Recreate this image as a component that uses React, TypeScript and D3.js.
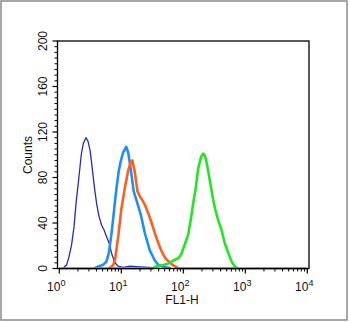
import React from "react";
import * as d3 from "d3";

const yTicks = [0, 40, 80, 120, 160, 200];
const xDecades = [0, 1, 2, 3, 4];

const navyX = [1.16, 1.23, 1.31, 1.43, 1.58, 1.73, 1.86, 2.07, 2.26, 2.44, 2.69, 2.9, 3.13, 3.37, 3.67, 4.0, 4.36, 4.82, 5.25, 5.79, 6.4, 7.08, 7.91, 8.91, 10.7, 13.8, 20, 28.8, 41.7];
const navyY = [0, 2, 3, 10, 21, 37, 57, 80, 100, 110, 115, 112, 104, 90, 72, 57, 46, 38, 34, 28, 22, 12, 5, 2, 1, 2, 1.5, 1, 0];

const blueX = [3.63, 4.37, 5.0, 5.75, 6.31, 6.92, 7.41, 7.94, 8.51, 9.12, 9.77, 10.7, 12.0, 12.9, 13.8, 14.8, 15.8, 17.8, 20.9, 24.0, 28.8, 34.7, 39.8, 44.7, 52.5, 63.1];
const blueY = [0, 2, 3, 6, 14, 30, 44, 60, 74, 86, 94, 102, 107, 102, 92, 80, 68, 59, 46, 31, 16, 7, 3, 2, 1, 0];

const orangeX = [6.31, 7.41, 7.94, 8.91, 10.0, 11.5, 12.9, 14.1, 15.1, 16.6, 18.2, 20.0, 21.9, 24.0, 27.5, 30.9, 34.7, 39.8, 44.7, 50.1, 53.7, 64.6, 72.4, 83.2, 700];
const orangeY = [0, 3, 8, 28, 52, 72, 86, 93, 95, 84, 68, 63, 60, 56, 48, 40, 31, 22, 15, 10, 8, 4, 2, 0, 0];

const greenX = [1, 31.6, 37.2, 47.9, 57.5, 69.2, 83.2, 93.3, 107, 120, 132, 145, 158, 174, 193, 209, 224, 240, 263, 295, 324, 363, 417, 468, 537, 603, 676, 759, 10000];
const greenY = [0, 0, 2, 3, 4.5, 7, 9, 13, 22, 30, 43, 58, 70, 88, 98, 101, 99, 92, 80, 64, 53, 43, 33, 22, 13, 6, 2, 0, 0];

const series = [
  { xs: navyX, ys: navyY, color: "#2a2ab8", width: 1.3 },
  { xs: blueX, ys: blueY, color: "#1e90f5", width: 2.6 },
  { xs: orangeX, ys: orangeY, color: "#ff5e1c", width: 2.6 },
  { xs: greenX, ys: greenY, color: "#22e622", width: 2.6 },
];

export default function App() {
  const W = 350, H = 322;
  const boxL = 57.5, boxR = 309, boxT = 41, boxB = 268.5;
  const x = d3.scaleLog().domain([1, 10000]).range([59.3, 307.3]);
  const y = d3.scaleLinear().domain([0, 200]).range([boxB, boxT]);
  const line = d3.line<[number, number]>().x(d => x(d[0])).y(d => y(d[1])).curve(d3.curveLinear);

  const minorY = d3.range(0, 201, 5).filter(v => v % 40 !== 0);
  const minorX: number[] = [];
  for (let e = 0; e < 4; e++) for (let m = 2; m <= 9; m++) minorX.push(m * Math.pow(10, e));

  const font = "'Liberation Sans', Arial, Helvetica, sans-serif";

  return (
    <svg width={W} height={H} style={{ position: "fixed", left: 0, top: 0, background: "#fff" }} fontFamily={font}>
      <rect x={1} y={1} width={346} height={319} fill="#fff" stroke="#8a8a8a" strokeWidth={1.5} />
      {series.map((s, i) => (
        <path key={i} d={line(s.xs.map((v, j) => [v, s.ys[j]] as [number, number])) || ""} fill="none" stroke={s.color} strokeWidth={s.width} strokeLinejoin="round" />
      ))}
      <rect x={boxL} y={boxT} width={boxR - boxL} height={boxB - boxT} fill="none" stroke="#000" strokeWidth={1.3} />
      {yTicks.map(t => (
        <g key={"y" + t}>
          <line x1={boxL - 5} x2={boxL} y1={y(t)} y2={y(t)} stroke="#000" strokeWidth={1.2} />
          <text transform={`translate(47,${y(t)}) rotate(-90)`} textAnchor="middle" fontSize={12} fill="#111">{t}</text>
        </g>
      ))}
      {minorY.map(t => (
        <line key={"my" + t} x1={boxL - 3} x2={boxL} y1={y(t)} y2={y(t)} stroke="#000" strokeWidth={1} />
      ))}
      {xDecades.map(e => (
        <g key={"x" + e}>
          <line x1={x(Math.pow(10, e))} x2={x(Math.pow(10, e))} y1={boxB} y2={boxB + 5} stroke="#000" strokeWidth={1.2} />
          <text x={x(Math.pow(10, e)) - 3} y={291} textAnchor="middle" fontSize={12} fill="#111">
            10<tspan dy={-5} fontSize={9}>{e}</tspan>
          </text>
        </g>
      ))}
      {minorX.map(v => (
        <line key={"mx" + v} x1={x(v)} x2={x(v)} y1={boxB} y2={boxB + 3} stroke="#000" strokeWidth={1} />
      ))}
      <text transform="translate(32,155) rotate(-90)" textAnchor="middle" fontSize={12} fill="#111">Counts</text>
      <text x={182} y={304} textAnchor="middle" fontSize={12} fill="#111">FL1-H</text>
    </svg>
  );
}
